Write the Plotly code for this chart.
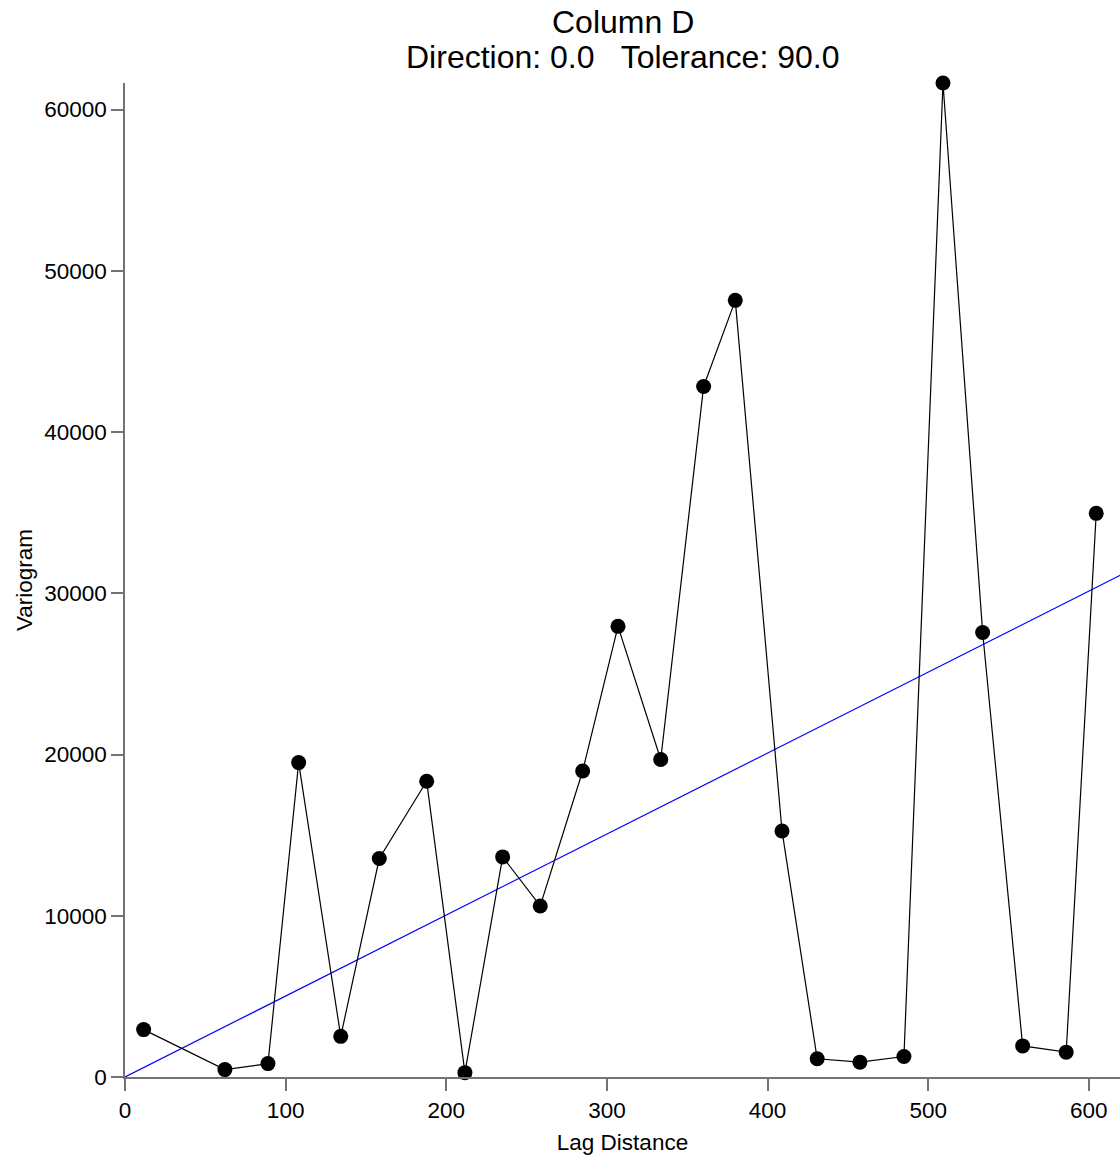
import plotly.graph_objects as go

# Experimental variogram for Column D (direction 0.0, tolerance 90.0)
lag_distance = [11.6, 62.2, 89.0, 108.1, 134.3, 158.3, 187.8, 211.6, 235.1, 258.5,
                284.9, 306.9, 333.5, 360.2, 379.9, 409.0, 430.9, 457.5, 484.9, 509.2,
                533.9, 558.8, 585.9, 604.6]
variogram = [2940, 460, 830, 19500, 2520, 13550, 18340, 270, 13650, 10610,
             18980, 27950, 19690, 42830, 48170, 15260, 1130, 920, 1270, 61650,
             27570, 1930, 1540, 34960]

# Fitted linear model (nugget 0)
model_lag = [0, 620]
model_variogram = [0, 31140]

x_ticks = [0, 100, 200, 300, 400, 500, 600]
y_ticks = [0, 10000, 20000, 30000, 40000, 50000, 60000]

title_lines = ["Column D", "Direction: 0.0   Tolerance: 90.0"]

FONT = "Liberation Sans, Arial, sans-serif"
AXIS_GREY = "#737373"
PLOT_H = 1160 - 83 - 83

fig = go.Figure()
fig.add_trace(go.Scatter(
    x=model_lag, y=model_variogram, mode="lines",
    line=dict(color="#0000ff", width=1.2), hoverinfo="skip", showlegend=False,
))
fig.add_trace(go.Scatter(
    x=lag_distance, y=variogram, mode="lines+markers",
    line=dict(color="black", width=1.2),
    marker=dict(color="black", size=15),
    cliponaxis=False, showlegend=False,
))

# Two-line heading, placed above the plotting area
for text, top_px in zip(title_lines, [22, 57]):
    fig.add_annotation(
        text=text, xref="paper", yref="paper",
        x=0.5, y=1 + (83 - top_px) / PLOT_H,
        xanchor="center", yanchor="middle", showarrow=False,
        font=dict(family=FONT, size=32, color="black"),
    )

fig.update_layout(
    width=1120, height=1160,
    margin=dict(l=125, r=0, t=83, b=83),
    paper_bgcolor="white", plot_bgcolor="white",
    font=dict(family=FONT, size=22.5, color="black"),
    xaxis=dict(
        range=[0, 619.4], tickvals=x_ticks, ticktext=[str(v) for v in x_ticks],
        showgrid=False, zeroline=False, showline=True,
        linecolor=AXIS_GREY, linewidth=1.5,
        ticks="outside", ticklen=12, tickcolor=AXIS_GREY, tickwidth=1.5,
        title=dict(text="Lag Distance", font=dict(size=22.5), standoff=12),
    ),
    yaxis=dict(
        range=[0, max(variogram)], tickvals=y_ticks, ticktext=[str(v) for v in y_ticks],
        showgrid=False, zeroline=False, showline=True,
        linecolor=AXIS_GREY, linewidth=1.5,
        ticks="outside", ticklen=12, tickcolor=AXIS_GREY, tickwidth=1.5,
        title=dict(text="Variogram", font=dict(size=22.5), standoff=5),
    ),
)

fig.write_html("out.html")
